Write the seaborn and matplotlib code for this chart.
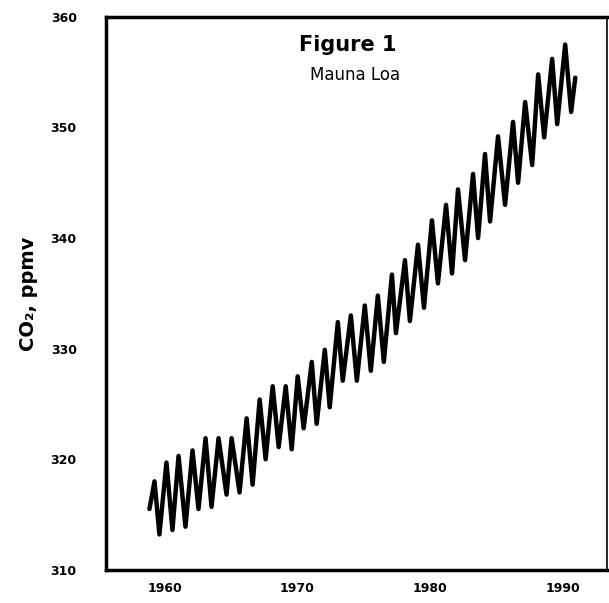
import pandas as pd
import numpy as np
import matplotlib
matplotlib.use('Agg')
import matplotlib.pyplot as plt
import seaborn as sns

# seasonal peaks and troughs
years = [1958.87, 1959.25, 1959.62, 1960.15, 1960.60, 1961.06, 1961.58, 1962.11,
         1962.56, 1963.09, 1963.54, 1964.07, 1964.67, 1965.05, 1965.65, 1966.18,
         1966.63, 1967.16, 1967.61, 1968.14, 1968.59, 1969.12, 1969.57, 1970.02,
         1970.47, 1971.08, 1971.45, 1972.06, 1972.43, 1973.04, 1973.41, 1974.02,
         1974.47, 1975.07, 1975.52, 1976.05, 1976.50, 1977.11, 1977.41, 1978.09,
         1978.46, 1979.07, 1979.52, 1980.12, 1980.57, 1981.18, 1981.63, 1982.08,
         1982.61, 1983.21, 1983.59, 1984.11, 1984.49, 1985.09, 1985.62, 1986.22,
         1986.60, 1987.13, 1987.66, 1988.11, 1988.56, 1989.16, 1989.54, 1990.14,
         1990.59, 1990.90]
co2 = [315.5, 318.0, 313.2, 319.7, 313.6, 320.3, 313.9, 320.8,
       315.5, 321.9, 315.7, 321.9, 316.8, 321.9, 317.0, 323.7,
       317.7, 325.4, 320.0, 326.6, 321.1, 326.6, 320.9, 327.5,
       322.8, 328.8, 323.2, 329.9, 324.7, 332.4, 327.1, 333.0,
       327.1, 333.9, 328.0, 334.8, 328.8, 336.7, 331.4, 338.0,
       332.5, 339.4, 333.7, 341.6, 335.9, 343.0, 336.8, 344.4,
       338.0, 345.8, 340.0, 347.6, 341.5, 349.2, 343.0, 350.5,
       345.0, 352.3, 346.6, 354.8, 349.1, 356.2, 350.3, 357.5,
       351.4, 354.5]
xticks = [1960, 1970, 1980, 1990]
yticks = [310, 320, 330, 340, 350, 360]

df = pd.DataFrame({'year': years, 'co2': co2})

sns.set_style('white')
plt.rcParams['font.family'] = ['DejaVu Sans']
plt.rcParams['text.color'] = 'black'
plt.rcParams['xtick.color'] = 'black'
plt.rcParams['ytick.color'] = 'black'
plt.rcParams['axes.labelcolor'] = 'black'

fig = plt.figure(figsize=(6.09, 6.03), dpi=100)
ax = fig.add_axes([0.174, 0.055, 0.823, 0.917])
sns.lineplot(data=df, x='year', y='co2', color='black', linewidth=3.2, ax=ax)

ax.set_xlim(1955.6, 1993.3)
ax.set_ylim(310, 360)
ax.set_xticks(xticks)
ax.set_yticks(yticks)
ax.tick_params(axis='both', length=0, labelsize=9)
ax.tick_params(axis='y', pad=21)
ax.tick_params(axis='x', pad=9)
for lab in ax.get_xticklabels() + ax.get_yticklabels():
    lab.set_fontweight('bold')
ax.set_xlabel('')
ax.set_ylabel('CO₂, ppmv', fontsize=14, fontweight='bold', labelpad=9)

for side in ['left', 'bottom', 'top']:
    ax.spines[side].set_linewidth(2.5)
    ax.spines[side].set_color('black')
ax.spines['right'].set_linewidth(1.2)
ax.spines['right'].set_color('black')

ax.text(0.483, 0.95, 'Figure 1', transform=ax.transAxes, ha='center', va='center',
        fontsize=15, fontweight='bold')
ax.text(0.497, 0.895, 'Mauna Loa', transform=ax.transAxes, ha='center', va='center',
        fontsize=12)

fig.savefig('out.png', dpi=100)
